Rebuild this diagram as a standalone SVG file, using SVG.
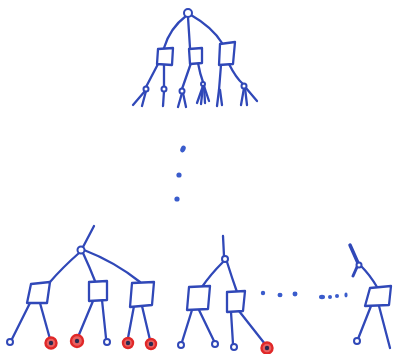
<svg xmlns="http://www.w3.org/2000/svg" width="393" height="354" viewBox="0 0 393 354">
<style>
.ln{fill:none;stroke:#3048b8;stroke-width:2.3;stroke-linecap:round;stroke-linejoin:round}
.bx{fill:#fff;stroke:#3048b8;stroke-width:2.3;stroke-linejoin:round}
.lf{fill:#fff;stroke:#3048b8;stroke-width:2}
.rd{fill:#e86060;stroke:#e02828;stroke-width:2.4}
.rc{fill:#2a2a50}
.dt{fill:#3a5ccc}
</style>
<rect width="393" height="354" fill="#fff"/>
<g id="connectors" class="ln">
<path d="M186,16 Q170,28 164,48"/>
<path d="M188,17 Q189,32 190,48"/>
<path d="M191,15 Q212,27 222,43"/>
<path d="M158,64 L146,87"/>
<path d="M164,65 L164,87"/>
<path d="M191,63 L182,89"/>
<path d="M198,63 Q200,74 203,82"/>
<path d="M221,65 L219,90"/>
<path d="M229,64 Q236,78 243,84"/>
<path d="M145,91 L133,105"/><path d="M146,91 L142,106"/>
<path d="M164,91 L163,106"/>
<path d="M182,93 L178,107"/><path d="M183,93 L186,107"/>
<path d="M203,86 L197,103"/><path d="M203,86 L201,104"/><path d="M204,86 L205,103"/><path d="M204,86 L209,101"/>
<path d="M219,90 L217,106"/><path d="M220,90 L222,105"/>
<path d="M244,88 L241,105"/><path d="M245,88 L247,105"/><path d="M246,88 L257,101"/>
<path d="M83,247 L94,226"/>
<path d="M79,253 Q62,268 50,282"/>
<path d="M83,253 Q90,268 95,281"/>
<path d="M84,250 Q115,262 140,282"/>
<path d="M30,303 L12,339"/><path d="M40,303 L50,339"/>
<path d="M93,301 L78,337"/><path d="M102,300 L106,338"/>
<path d="M134,306 L128,338"/><path d="M142,306 L150,340"/>
<path d="M224,256 L223,236"/>
<path d="M223,262 Q210,275 202,287"/>
<path d="M227,262 Q232,278 237,292"/>
<path d="M192,310 L182,342"/><path d="M199,310 L214,341"/>
<path d="M231,312 L233,344"/><path d="M239,311 L265,344"/>
<path d="M350,245 L358,263" stroke-width="3.5"/>
<path d="M357,267 L353,276" stroke-width="3"/>
<path d="M361,266 Q370,275 377,287"/>
<path d="M371,306 L358,339"/><path d="M379,306 L390,348"/>
</g>
<g id="top-root"><circle class="lf" cx="188" cy="13" r="4"/></g>
<g id="top-box-1"><polygon class="bx" points="158,49 173,48 172,65 157,64"/></g>
<g id="top-box-2"><polygon class="bx" points="189,49 202,48 202,63 190,64"/></g>
<g id="top-box-3"><polygon class="bx" points="220,44 235,42 233,64 219,65"/></g>
<g id="top-leaf-1"><circle class="lf" cx="146" cy="89" r="2.5"/></g>
<g id="top-leaf-2"><circle class="lf" cx="164" cy="89" r="2.5"/></g>
<g id="top-leaf-3"><circle class="lf" cx="182" cy="91" r="2.5"/></g>
<g id="top-leaf-4"><circle class="lf" cx="203" cy="84" r="2"/></g>
<g id="top-leaf-6"><circle class="lf" cx="244" cy="86" r="2.5"/></g>
<g id="vdots">
<ellipse class="dt" cx="183" cy="149" rx="2.5" ry="3.5" transform="rotate(25 183 149)"/>
<circle class="dt" cx="179" cy="175" r="2.6"/>
<circle class="dt" cx="177" cy="199" r="2.6"/>
</g>
<g id="bl-root"><circle class="lf" cx="81" cy="250" r="3.5"/></g>
<g id="bl-box-1"><polygon class="bx" points="31,284 50,282 47,303 27,303"/></g>
<g id="bl-box-2"><polygon class="bx" points="89,282 107,281 107,300 89,301"/></g>
<g id="bl-box-3"><polygon class="bx" points="132,283 154,282 152,305 130,307"/></g>
<g id="leaf-1"><circle class="lf" cx="10" cy="342" r="3"/></g>
<g id="leaf-2"><circle class="rd" cx="51" cy="343" r="5.5"/><circle class="rc" cx="51" cy="343" r="2.2"/></g>
<g id="leaf-3"><circle class="rd" cx="77" cy="341" r="6"/><circle class="rc" cx="77" cy="341" r="2.2"/></g>
<g id="leaf-4"><circle class="lf" cx="107" cy="342" r="3"/></g>
<g id="leaf-5"><circle class="rd" cx="128" cy="343" r="5"/><circle class="rc" cx="128" cy="343" r="2.2"/></g>
<g id="leaf-6"><circle class="rd" cx="151" cy="344" r="5"/><circle class="rc" cx="151" cy="344" r="2.2"/></g>
<g id="bm-root"><circle class="lf" cx="225" cy="259" r="3"/></g>
<g id="bm-box-1"><polygon class="bx" points="189,287 210,286 208,309 187,310"/></g>
<g id="bm-box-2"><polygon class="bx" points="227,292 245,291 243,311 227,312"/></g>
<g id="leaf-7"><circle class="lf" cx="181" cy="345" r="3"/></g>
<g id="leaf-8"><circle class="lf" cx="215" cy="344" r="3"/></g>
<g id="leaf-9"><circle class="lf" cx="234" cy="347" r="3"/></g>
<g id="leaf-10"><circle class="rd" cx="267" cy="348" r="5.5"/><circle class="rc" cx="267" cy="348" r="2.2"/></g>
<g id="hdots">
<circle class="dt" cx="263" cy="293" r="2.2"/>
<ellipse class="dt" cx="280" cy="295" rx="2.5" ry="2.2"/>
<ellipse class="dt" cx="295" cy="294" rx="2.5" ry="2.4"/>
<ellipse class="dt" cx="322" cy="297" rx="3" ry="2.2"/>
<circle class="dt" cx="330" cy="297" r="2"/>
<circle class="dt" cx="337" cy="296" r="2"/>
<ellipse class="dt" cx="346" cy="295" rx="1.6" ry="2.4"/>
</g>
<g id="br-root"><circle class="lf" cx="359" cy="265" r="2.5"/></g>
<g id="br-box"><polygon class="bx" points="370,288 391,286 389,305 365,306"/></g>
<g id="leaf-11"><circle class="lf" cx="357" cy="341" r="3"/></g>
</svg>
